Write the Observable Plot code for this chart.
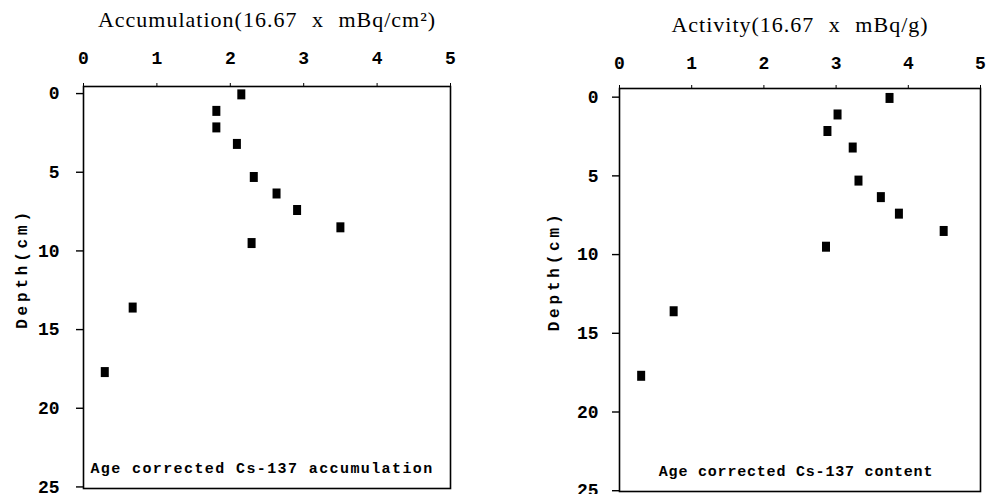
<!DOCTYPE html>
<html><head><meta charset="utf-8">
<script src="https://cdn.jsdelivr.net/npm/d3@7"></script>
<script src="https://cdn.jsdelivr.net/npm/@observablehq/plot@0.6"></script>
<style>
body{margin:0;background:#fff;}
#wrap{display:flex;width:991px;height:494px;overflow:hidden;}
</style></head><body><div id="wrap"></div>
<script>
// Data
const depth = [0.05, 1.1, 2.15, 3.2, 5.3, 6.35, 7.4, 8.5, 9.5, 13.6, 17.7];
const accumulation = [2.15, 1.81, 1.81, 2.09, 2.32, 2.63, 2.91, 3.50, 2.29, 0.67, 0.29];
const activity = [3.74, 3.02, 2.88, 3.23, 3.31, 3.62, 3.87, 4.49, 2.86, 0.75, 0.30];
const xTicks = [0, 1, 2, 3, 4, 5];
const yTicks = [0, 5, 10, 15, 20, 25];
const titles = ["Accumulation(16.67 x mBq/cm\u00B2)", "Activity(16.67 x mBq/g)"];
const notes = ["Age corrected Cs-137 accumulation", "Age corrected Cs-137 content"];
const yLabel = "Depth(cm)";

const mono = "'Liberation Mono', 'DejaVu Sans Mono', monospace";
const serif = "'Liberation Serif', 'DejaVu Serif', serif";

const tallSquare = {
  draw(ctx, size) {
    const r = Math.sqrt(size / Math.PI);
    ctx.rect(-0.8 * r, -r, 1.6 * r, 2 * r);
  }
};

function panel(values, title, note, g) {
  const data = depth.map((d, i) => ({depth: d, value: values[i]}));
  const svg = Plot.plot({
    width: g.width,
    height: 494,
    marginLeft: g.ml, marginRight: g.mr, marginTop: g.mt, marginBottom: g.mb,
    style: {background: "#fff", color: "#000", overflow: "visible"},
    x: {domain: [0, 5]},
    y: {domain: g.ydom, reverse: true},
    marks: [
      Plot.frame({stroke: "#000", strokeWidth: 1.6}),
      Plot.axisX({anchor: "top", ticks: xTicks, tickFormat: d => String(d), tickSize: 4, tickPadding: g.xpad, label: null,
        fontSize: 18, fontWeight: "bold", fontFamily: mono}),
      Plot.axisY({anchor: "left", ticks: yTicks, tickFormat: d => String(d), tickSize: 7, tickPadding: g.ypad, label: null,
        fontSize: 18, fontWeight: "bold", fontFamily: mono, strokeWidth: 1.4}),
      Plot.text([title], {frameAnchor: "top", lineAnchor: "middle", textAnchor: "middle", dy: g.tdy, fontSize: 22, fontFamily: serif, fill: "#000"}),
      Plot.text([yLabel], {frameAnchor: "left", lineAnchor: "middle", textAnchor: "middle", dx: g.ldx, dy: g.ldy, rotate: -90, fontSize: 16,
        fontWeight: "bold", fontFamily: mono, fill: "#000"}),
      Plot.text([note], {frameAnchor: "bottom", lineAnchor: "middle", textAnchor: "middle", dy: -20, dx: g.ndx, fontSize: 15, fontWeight: "bold",
        fontFamily: mono, fill: "#000"}),
      Plot.dot(data, {x: "value", y: "depth", symbol: tallSquare, r: 5, fill: "#000", stroke: "none"})
    ]
  });
  d3.select(svg).selectAll("text").each(function() {
    const t = this.textContent;
    if (t === title) d3.select(this).attr("letter-spacing", "1px").attr("word-spacing", "8px");
    else if (t === yLabel) d3.select(this).attr("letter-spacing", "3.8px");
    else if (t === note) d3.select(this).attr("letter-spacing", g.ls);
  });
  return svg;
}

const wrap = document.getElementById("wrap");
wrap.append(panel(accumulation, titles[0], notes[0],
  {width: 495, ml: 83, mr: 45, mt: 86, mb: 6, ydom: [-0.45, 25.1], xpad: 19, ypad: 17, tdy: -67, ldx: -62, ldy: -19, ndx: -5, ls: "1.4px"}));
wrap.append(panel(activity, titles[1], notes[1],
  {width: 496, ml: 124, mr: 11, mt: 88, mb: 3, ydom: [-0.55, 25.05], xpad: 16, ypad: 14, tdy: -64, ldx: -66, ldy: -19, ndx: -4, ls: "0.8px"}));
</script>
</body></html>
